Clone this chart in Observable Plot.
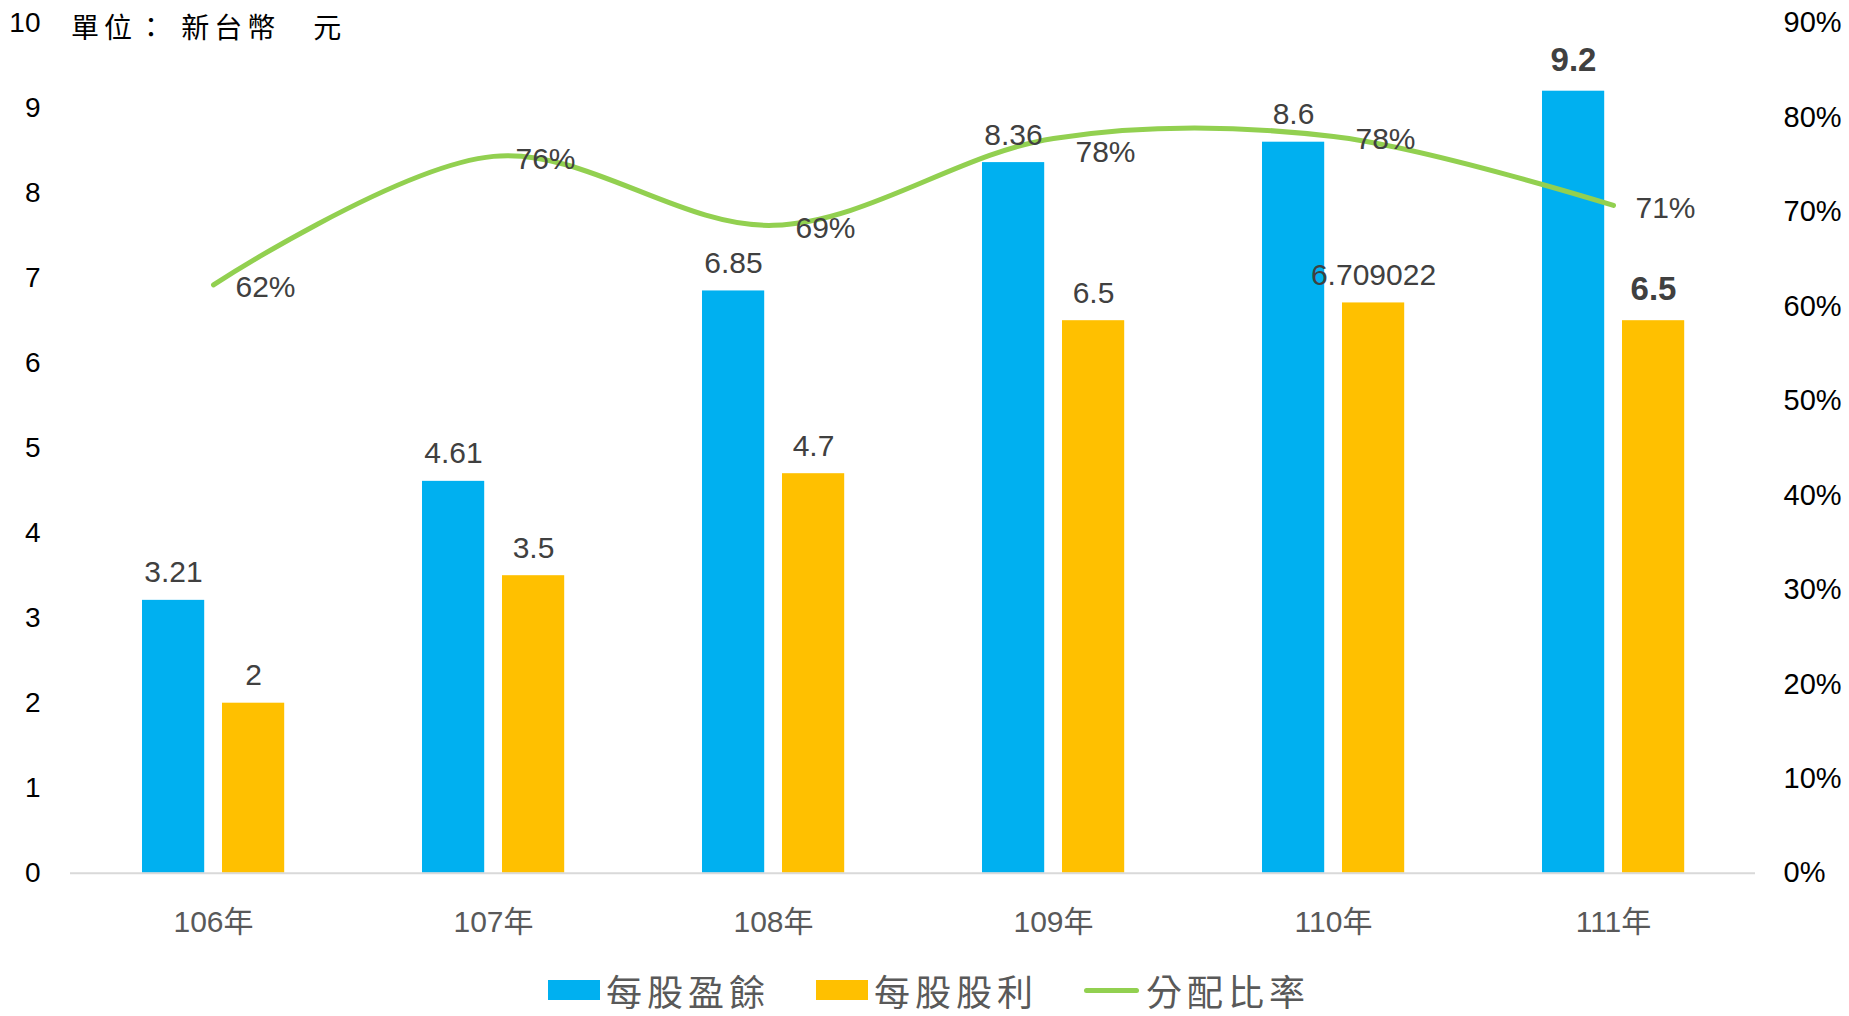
<!DOCTYPE html>
<html>
<head>
<meta charset="utf-8">
<script src="https://cdn.jsdelivr.net/npm/d3@7"></script>
<script src="https://cdn.jsdelivr.net/npm/@observablehq/plot@0.6"></script>
<style>
  body { margin: 0; background: #fff; }
  #wrap { position: relative; width: 1849px; height: 1016px; overflow: hidden; background: #fff; }
  #chart { position: absolute; left: 0; top: 0; }
  #unit { position: absolute; left: 71px; top: 11px; font-family: "Noto Sans CJK TC", sans-serif; font-size: 28px; line-height: 30px; letter-spacing: 5px; color: #000; white-space: pre; }
  #legend { position: absolute; left: 0; top: 960px; height: 60px; display: flex; align-items: center; padding-left: 548px; font-family: "Noto Sans CJK TC", sans-serif; font-size: 36px; line-height: 40px; letter-spacing: 5px; color: #595959; white-space: nowrap; }
  .sw { width: 52px; height: 20px; margin-right: 6px; }
  .ln { width: 55px; height: 5px; border-radius: 3px; margin-right: 7px; }
  .item { display: flex; align-items: center; }
</style>
</head>
<body>
<div id="wrap">
  <div id="chart"></div>
  <div id="unit"></div>
  <div id="legend"></div>
</div>
<script>
// ---- data ----
const years = ["106年", "107年", "108年", "109年", "110年", "111年"];
const eps = [3.21, 4.61, 6.85, 8.36, 8.6, 9.2];            // 每股盈餘
const dividend = [2, 3.5, 4.7, 6.5, 6.709022, 6.5];        // 每股股利
const payoutRatio = [0.623, 0.759, 0.686, 0.778, 0.780, 0.707]; // 分配比率
const payoutLabels = ["62%", "76%", "69%", "78%", "78%", "71%"];
const leftTicks = [0, 1, 2, 3, 4, 5, 6, 7, 8, 9, 10];
const rightTicks = [0, 0.1, 0.2, 0.3, 0.4, 0.5, 0.6, 0.7, 0.8, 0.9];
const seriesNames = ["每股盈餘", "每股股利", "分配比率"];
const unitText = "單位： 新台幣　元";

const colors = { eps: "#00B0F0", dividend: "#FFC000", ratio: "#92D050" };

const rows = years.map((year, i) => ({
  year, eps: eps[i], dividend: dividend[i], ratio: payoutRatio[i], ratioLabel: payoutLabels[i]
}));

// secondary axis mapping (0–90% onto 0–10)
const ratioToY = d3.scaleLinear([0, 0.9], [0, 10]);
const last = years[years.length - 1];

const chart = Plot.plot({
  width: 1849,
  height: 960,
  marginLeft: 70,
  marginRight: 94,
  marginTop: 22.7,
  marginBottom: 87.3,
  style: { fontFamily: '"Liberation Sans", Arial, "Noto Sans CJK TC", sans-serif', background: "white", color: "#000" },
  x: { type: "band", domain: years, padding: 0, label: null },
  y: { domain: [0, 10], label: null },
  marks: [
    Plot.barY(rows, { x: "year", y: "eps", fill: colors.eps, insetLeft: 69, insetRight: 148.8 }),
    Plot.barY(rows, { x: "year", y: "dividend", fill: colors.dividend, insetLeft: 149, insetRight: 68.8 }),
    Plot.ruleY([0], { stroke: "#D9D9D9", strokeWidth: 2 }),
    Plot.line(rows, { x: "year", y: d => ratioToY(d.ratio), stroke: colors.ratio, strokeWidth: 5, curve: "catmull-rom", strokeLinecap: "round" }),
    // bar value labels
    Plot.text(rows, { filter: d => d.year !== last, x: "year", y: "eps", text: d => String(d.eps), dx: -40, dy: -18, lineAnchor: "bottom", fontSize: 30, fill: "#404040" }),
    Plot.text(rows, { filter: d => d.year !== last, x: "year", y: "dividend", text: d => String(d.dividend), dx: 40, dy: -18, lineAnchor: "bottom", fontSize: 30, fill: "#404040" }),
    Plot.text(rows, { filter: d => d.year === last, x: "year", y: "eps", text: d => String(d.eps), dx: -40, dy: -20, lineAnchor: "bottom", fontSize: 33, fontWeight: "bold", fill: "#404040" }),
    Plot.text(rows, { filter: d => d.year === last, x: "year", y: "dividend", text: d => String(d.dividend), dx: 40, dy: -21, lineAnchor: "bottom", fontSize: 33, fontWeight: "bold", fill: "#404040" }),
    // ratio labels
    Plot.text(rows, { filter: d => d.year !== "109年", x: "year", y: d => ratioToY(d.ratio), text: "ratioLabel", textAnchor: "start", dx: 22, dy: 3, lineAnchor: "middle", fontSize: 30, fill: "#404040" }),
    Plot.text(rows, { filter: d => d.year === "109年", x: "year", y: d => ratioToY(d.ratio), text: "ratioLabel", textAnchor: "start", dx: 22, dy: 14, lineAnchor: "middle", fontSize: 30, fill: "#404040" }),
    // axes
    Plot.axisY(leftTicks, { anchor: "left", tickSize: 0, tickPadding: 30, fontSize: 28, fill: "#000", label: null, tickFormat: d => String(d) }),
    Plot.axisY(rightTicks.map(t => ratioToY(t)), { anchor: "right", tickSize: 0, tickPadding: 28, fontSize: 29, fill: "#000", label: null,
      tickFormat: d => Math.round(ratioToY.invert(d) * 100) + "%" }),
    Plot.axisX({ tickSize: 0, tickPadding: 37, fontSize: 30, fill: "#595959", label: null })
  ]
});
document.getElementById("chart").appendChild(chart);
document.getElementById("unit").textContent = unitText;

// legend
const legend = document.getElementById("legend");
const legendItems = [
  { name: seriesNames[0], color: colors.eps, kind: "sw", gap: 46 },
  { name: seriesNames[1], color: colors.dividend, kind: "sw", gap: 46 },
  { name: seriesNames[2], color: colors.ratio, kind: "ln", gap: 0 }
];
legendItems.forEach(it => {
  const item = document.createElement("div");
  item.className = "item";
  item.style.marginRight = it.gap + "px";
  const sw = document.createElement("div");
  sw.className = it.kind;
  sw.style.background = it.color;
  const tx = document.createElement("span");
  tx.textContent = it.name;
  item.appendChild(sw);
  item.appendChild(tx);
  legend.appendChild(item);
});
</script>
</body>
</html>
